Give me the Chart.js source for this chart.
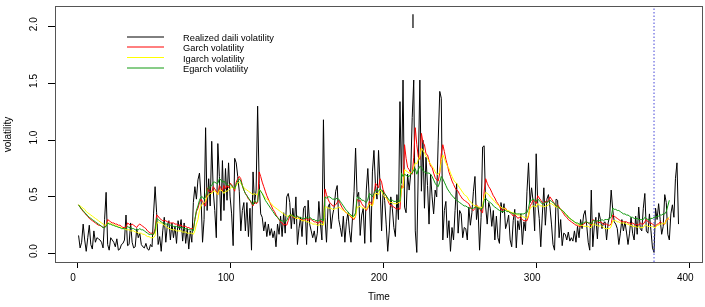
<!DOCTYPE html>
<html>
<head>
<meta charset="utf-8">
<title>Volatility</title>
<script src="https://cdn.jsdelivr.net/npm/chart.js@4.4.1/dist/chart.umd.min.js"></script>
<style>
  html, body { margin: 0; padding: 0; background: #fff; }
  #wrap { width: 705px; height: 307px; }
</style>
</head>
<body>
<div id="wrap"><canvas id="volChart" width="705" height="307"></canvas></div>
<script>
// realized daily volatility, t = 1..393
const realized = [
  0.16,0.05,0.10,0.26,0.12,0.02,0.14,0.25,0.08,0.04,
  0.20,0.10,0.14,0.13,0.12,0.10,0.05,0.30,0.54,0.08,
  0.03,0.14,0.12,0.10,0.06,0.13,0.03,0.04,0.08,0.09,
  0.12,0.34,0.07,0.08,0.27,0.10,0.05,0.06,0.22,0.14,
  0.18,0.08,0.06,0.05,0.09,0.04,0.03,0.08,0.06,0.35,
  0.59,0.36,0.08,0.15,0.02,0.20,0.32,0.10,0.25,0.29,
  0.12,0.27,0.14,0.24,0.09,0.29,0.21,0.30,0.11,0.27,
  0.09,0.22,0.04,0.20,0.10,0.45,0.59,0.48,0.65,0.71,
  0.50,0.10,0.30,1.11,0.38,0.66,0.42,0.99,0.55,0.38,
  0.14,0.97,0.68,0.29,0.82,0.38,0.75,0.47,0.80,0.50,
  0.35,0.07,0.84,0.80,0.68,0.55,0.20,0.38,0.45,0.20,
  0.45,0.15,0.40,0.03,0.72,0.44,0.56,1.30,0.62,0.35,
  0.32,0.20,0.28,0.15,0.26,0.16,0.22,0.14,0.20,0.06,
  0.26,0.17,0.33,0.15,0.36,0.18,0.50,0.53,0.45,0.22,
  0.40,0.26,0.50,0.08,0.22,0.32,0.15,0.40,0.42,0.08,
  0.47,0.26,0.20,0.14,0.20,0.10,0.18,0.46,0.27,0.12,
  1.18,0.32,0.10,0.41,0.44,0.22,0.34,0.41,0.55,0.60,
  0.30,0.23,0.15,0.33,0.10,0.28,0.36,0.20,0.10,0.32,
  0.55,0.93,0.50,0.54,0.16,0.34,0.40,0.09,0.56,0.75,
  0.47,0.10,0.72,0.91,0.60,0.48,0.91,0.60,0.20,0.56,
  0.47,0.26,0.02,0.20,0.50,0.40,0.23,0.15,0.52,0.30,
  1.34,0.62,1.53,0.41,0.36,0.70,0.56,0.70,1.20,1.53,
  0.20,0.01,0.76,1.53,0.55,1.00,0.40,0.85,0.60,0.26,
  0.70,0.50,0.35,0.56,0.50,1.00,1.43,1.37,0.12,0.38,
  0.46,0.14,0.29,0.02,0.23,0.12,0.38,0.62,0.18,0.38,
  0.35,0.14,0.23,0.22,0.12,0.41,0.25,0.36,0.55,0.68,
  0.30,0.41,0.03,0.32,0.94,0.95,0.41,0.26,0.45,0.40,
  0.24,0.38,0.12,0.33,0.14,0.09,0.45,0.36,0.44,0.22,
  0.27,0.34,0.12,0.06,0.29,0.39,0.05,0.29,0.21,0.35,
  0.08,0.28,0.20,0.55,0.80,0.45,0.58,0.46,0.20,0.88,
  0.44,0.31,0.06,0.34,0.58,0.25,0.48,0.52,0.41,0.26,
  0.08,0.03,0.48,0.47,0.14,0.30,0.07,0.18,0.17,0.12,
  0.19,0.11,0.14,0.11,0.20,0.10,0.24,0.14,0.30,0.22,
  0.34,0.38,0.25,0.10,0.03,0.56,0.06,0.25,0.32,0.13,
  0.36,0.30,0.22,0.27,0.28,0.12,0.27,0.33,0.56,0.39,
  0.28,0.26,0.22,0.08,0.18,0.30,0.20,0.28,0.19,0.08,
  0.18,0.32,0.18,0.12,0.33,0.17,0.41,0.22,0.20,0.40,
  0.53,0.20,0.18,0.35,0.20,0.05,0.01,0.40,0.30,0.44,
  0.30,0.17,0.24,0.52,0.45,0.17,0.12,0.35,0.43,0.32,
  0.66,0.80,0.26
];

// fitted volatilities, t = 1..387
const garch = [
  0.43,0.41,0.39,0.37,0.36,0.34,0.33,0.31,0.30,0.29,
  0.28,0.27,0.26,0.25,0.25,0.24,0.23,0.23,0.25,0.30,
  0.29,0.28,0.27,0.27,0.26,0.26,0.25,0.25,0.24,0.23,
  0.23,0.23,0.27,0.26,0.25,0.26,0.25,0.24,0.23,0.25,
  0.26,0.25,0.24,0.23,0.22,0.20,0.19,0.18,0.18,0.17,
  0.22,0.34,0.33,0.31,0.30,0.29,0.29,0.29,0.28,0.28,
  0.27,0.27,0.27,0.26,0.26,0.25,0.25,0.25,0.24,0.24,
  0.24,0.23,0.23,0.22,0.22,0.22,0.30,0.37,0.40,0.45,
  0.48,0.46,0.43,0.42,0.58,0.55,0.55,0.54,0.59,0.57,
  0.55,0.52,0.60,0.58,0.55,0.60,0.57,0.60,0.58,0.62,
  0.61,0.58,0.55,0.63,0.66,0.68,0.66,0.60,0.56,0.53,
  0.51,0.48,0.47,0.44,0.42,0.46,0.44,0.45,0.72,0.68,
  0.63,0.59,0.55,0.51,0.48,0.45,0.42,0.39,0.37,0.34,
  0.32,0.30,0.28,0.27,0.25,0.26,0.25,0.29,0.33,0.34,
  0.32,0.32,0.31,0.33,0.31,0.30,0.30,0.29,0.30,0.31,
  0.29,0.31,0.30,0.29,0.28,0.28,0.27,0.27,0.29,0.28,
  0.27,0.57,0.52,0.48,0.45,0.44,0.42,0.42,0.43,0.45,
  0.47,0.44,0.41,0.39,0.37,0.36,0.35,0.34,0.32,0.31,
  0.30,0.33,0.48,0.46,0.47,0.44,0.42,0.41,0.38,0.40,
  0.46,0.45,0.42,0.52,0.62,0.60,0.58,0.66,0.63,0.56,
  0.53,0.51,0.47,0.44,0.42,0.42,0.41,0.40,0.39,0.40,
  0.39,0.60,0.58,0.96,0.84,0.76,0.74,0.71,0.70,0.85,
  1.11,0.96,0.85,0.83,1.06,0.98,0.96,0.88,0.87,0.82,
  0.77,0.76,0.71,0.67,0.65,0.64,0.71,0.88,0.96,0.90,
  0.83,0.78,0.72,0.68,0.64,0.61,0.58,0.56,0.55,0.52,
  0.50,0.48,0.47,0.46,0.45,0.44,0.41,0.39,0.38,0.40,
  0.43,0.41,0.40,0.37,0.36,0.55,0.66,0.62,0.59,0.57,
  0.54,0.51,0.49,0.46,0.44,0.42,0.39,0.38,0.39,0.40,
  0.38,0.37,0.36,0.35,0.33,0.34,0.33,0.31,0.32,0.31,
  0.30,0.29,0.29,0.29,0.33,0.42,0.44,0.47,0.46,0.44,
  0.51,0.49,0.47,0.45,0.44,0.46,0.45,0.47,0.50,0.48,
  0.46,0.44,0.41,0.43,0.41,0.39,0.37,0.35,0.33,0.32,
  0.30,0.29,0.28,0.27,0.26,0.25,0.25,0.24,0.24,0.25,
  0.26,0.27,0.28,0.27,0.26,0.25,0.30,0.29,0.28,0.28,
  0.27,0.28,0.27,0.26,0.26,0.26,0.25,0.25,0.26,0.34,
  0.33,0.32,0.31,0.30,0.29,0.28,0.28,0.28,0.28,0.27,
  0.27,0.26,0.27,0.26,0.25,0.26,0.25,0.27,0.26,0.26,
  0.28,0.30,0.28,0.27,0.27,0.26,0.25,0.24,0.26,0.26,
  0.28,0.27,0.26,0.26,0.30,0.31,0.30
];

const igarch = [
  0.43,0.42,0.41,0.40,0.39,0.37,0.36,0.35,0.34,0.33,
  0.32,0.31,0.30,0.29,0.28,0.27,0.26,0.25,0.25,0.27,
  0.27,0.26,0.26,0.25,0.25,0.24,0.24,0.23,0.23,0.22,
  0.22,0.21,0.21,0.21,0.20,0.20,0.20,0.19,0.19,0.18,
  0.18,0.18,0.17,0.17,0.16,0.15,0.15,0.14,0.14,0.14,
  0.16,0.26,0.28,0.27,0.27,0.26,0.25,0.24,0.23,0.22,
  0.22,0.21,0.21,0.21,0.20,0.20,0.20,0.20,0.19,0.19,
  0.19,0.18,0.18,0.18,0.18,0.17,0.20,0.26,0.30,0.38,
  0.42,0.44,0.45,0.46,0.50,0.52,0.53,0.53,0.55,0.55,
  0.54,0.52,0.56,0.56,0.55,0.53,0.55,0.55,0.56,0.57,
  0.59,0.58,0.57,0.60,0.62,0.63,0.62,0.60,0.58,0.57,
  0.56,0.55,0.54,0.53,0.52,0.53,0.52,0.52,0.56,0.55,
  0.53,0.51,0.49,0.48,0.47,0.45,0.44,0.42,0.41,0.40,
  0.39,0.38,0.37,0.36,0.35,0.34,0.33,0.33,0.34,0.34,
  0.33,0.32,0.31,0.31,0.31,0.30,0.29,0.29,0.29,0.28,
  0.28,0.27,0.27,0.26,0.26,0.26,0.25,0.25,0.26,0.26,
  0.25,0.41,0.41,0.40,0.40,0.40,0.39,0.39,0.40,0.40,
  0.41,0.40,0.39,0.38,0.37,0.36,0.35,0.34,0.33,0.32,
  0.31,0.33,0.41,0.41,0.42,0.41,0.40,0.40,0.39,0.41,
  0.44,0.43,0.42,0.48,0.53,0.53,0.52,0.56,0.55,0.52,
  0.50,0.49,0.47,0.46,0.45,0.45,0.44,0.44,0.44,0.45,
  0.45,0.57,0.58,0.74,0.73,0.72,0.71,0.71,0.71,0.76,
  0.80,0.79,0.83,0.86,0.93,0.91,0.89,0.86,0.84,0.81,
  0.79,0.77,0.75,0.72,0.70,0.70,0.72,0.82,0.87,0.84,
  0.80,0.77,0.75,0.71,0.68,0.65,0.63,0.62,0.60,0.58,
  0.56,0.54,0.52,0.51,0.50,0.47,0.46,0.44,0.43,0.42,
  0.42,0.41,0.41,0.40,0.42,0.50,0.54,0.53,0.52,0.50,
  0.49,0.47,0.46,0.44,0.43,0.42,0.41,0.40,0.40,0.39,
  0.38,0.38,0.37,0.36,0.36,0.35,0.35,0.34,0.34,0.33,
  0.33,0.32,0.32,0.31,0.34,0.40,0.41,0.42,0.42,0.41,
  0.44,0.43,0.42,0.42,0.41,0.42,0.42,0.43,0.44,0.44,
  0.43,0.42,0.41,0.41,0.40,0.39,0.38,0.37,0.35,0.34,
  0.33,0.31,0.30,0.29,0.28,0.27,0.26,0.25,0.25,0.25,
  0.24,0.24,0.24,0.24,0.23,0.23,0.26,0.26,0.25,0.25,
  0.24,0.25,0.24,0.23,0.22,0.22,0.22,0.22,0.24,0.29,
  0.29,0.29,0.28,0.28,0.27,0.27,0.27,0.27,0.26,0.26,
  0.25,0.25,0.24,0.24,0.24,0.23,0.24,0.23,0.23,0.23,
  0.25,0.25,0.24,0.24,0.24,0.24,0.23,0.23,0.25,0.25,
  0.26,0.26,0.27,0.26,0.29,0.31,0.32
];

const egarch = [
  0.43,0.41,0.39,0.38,0.36,0.35,0.33,0.32,0.31,0.30,
  0.29,0.28,0.27,0.26,0.25,0.24,0.23,0.23,0.24,0.27,
  0.26,0.26,0.25,0.25,0.24,0.24,0.23,0.23,0.22,0.22,
  0.22,0.22,0.24,0.23,0.23,0.22,0.22,0.21,0.21,0.21,
  0.22,0.21,0.21,0.20,0.19,0.18,0.17,0.17,0.17,0.17,
  0.20,0.31,0.30,0.29,0.28,0.27,0.27,0.26,0.26,0.25,
  0.25,0.25,0.24,0.24,0.24,0.23,0.23,0.23,0.23,0.22,
  0.22,0.22,0.21,0.21,0.21,0.20,0.30,0.38,0.42,0.47,
  0.50,0.50,0.48,0.50,0.57,0.58,0.59,0.60,0.63,0.63,
  0.62,0.62,0.66,0.65,0.63,0.64,0.62,0.61,0.60,0.61,
  0.60,0.58,0.57,0.61,0.64,0.66,0.64,0.60,0.56,0.53,
  0.51,0.49,0.47,0.45,0.43,0.47,0.45,0.46,0.57,0.55,
  0.53,0.50,0.47,0.45,0.43,0.41,0.39,0.37,0.35,0.33,
  0.32,0.30,0.29,0.29,0.28,0.29,0.29,0.32,0.34,0.34,
  0.33,0.33,0.32,0.33,0.32,0.32,0.31,0.31,0.31,0.32,
  0.31,0.32,0.31,0.30,0.30,0.29,0.29,0.29,0.30,0.30,
  0.29,0.50,0.49,0.50,0.50,0.49,0.48,0.48,0.48,0.49,
  0.48,0.46,0.44,0.42,0.40,0.38,0.37,0.35,0.34,0.33,
  0.33,0.36,0.50,0.49,0.49,0.47,0.47,0.46,0.45,0.48,
  0.53,0.52,0.50,0.53,0.56,0.56,0.55,0.57,0.56,0.54,
  0.53,0.51,0.49,0.47,0.47,0.47,0.46,0.46,0.46,0.47,
  0.46,0.71,0.68,0.70,0.69,0.68,0.68,0.70,0.71,0.74,
  0.75,0.70,0.74,0.77,0.76,0.73,0.72,0.71,0.71,0.71,
  0.70,0.68,0.65,0.62,0.60,0.59,0.63,0.68,0.66,0.63,
  0.60,0.57,0.55,0.53,0.51,0.50,0.48,0.47,0.46,0.45,
  0.44,0.43,0.42,0.42,0.41,0.40,0.40,0.40,0.40,0.41,
  0.41,0.40,0.40,0.39,0.40,0.47,0.49,0.47,0.46,0.45,
  0.44,0.42,0.41,0.40,0.39,0.38,0.37,0.37,0.37,0.38,
  0.37,0.37,0.36,0.36,0.35,0.36,0.35,0.35,0.35,0.35,
  0.35,0.35,0.36,0.36,0.40,0.47,0.47,0.48,0.47,0.46,
  0.48,0.47,0.45,0.44,0.44,0.45,0.45,0.46,0.47,0.46,
  0.45,0.44,0.42,0.42,0.40,0.39,0.38,0.37,0.35,0.34,
  0.32,0.31,0.30,0.29,0.28,0.27,0.27,0.26,0.26,0.27,
  0.27,0.28,0.28,0.27,0.27,0.26,0.29,0.29,0.28,0.29,
  0.29,0.29,0.30,0.29,0.30,0.30,0.30,0.31,0.32,0.40,
  0.39,0.39,0.38,0.38,0.37,0.36,0.35,0.35,0.34,0.34,
  0.33,0.32,0.32,0.31,0.31,0.31,0.30,0.30,0.30,0.30,
  0.32,0.31,0.30,0.30,0.31,0.31,0.32,0.32,0.33,0.33,
  0.34,0.34,0.35,0.35,0.37,0.42,0.47
];

const seriesNames = ['Realized daili volatility', 'Garch volatility', 'Igarch volatility', 'Egarch volatility'];
const seriesColors = ['#000000', '#ff0000', '#ffff00', '#109a10'];
const xTicks = [0, 100, 200, 300, 400];
const yTicks = [0, 0.5, 1, 1.5, 2];
const yTickLabels = ['0.0', '0.5', '1.0', '1.5', '2.0'];
const cutoffTime = 377;           // dotted blue line
const topMarkTime = 219.5;        // short stroke near the top
const topMark = [1.99, 2.11];

const FONT = '"Liberation Sans", Arial, Helvetica, sans-serif';

function toPoints(arr) {
  return arr.map((v, i) => ({ x: i + 1, y: v }));
}

function lineSet(label, data, color, width, order) {
  return {
    label: label,
    data: data,
    borderColor: color,
    borderWidth: width,
    pointRadius: 0,
    tension: 0,
    fill: false,
    order: order
  };
}

// R-style frame, rotated y labels and the legend
const rDecor = {
  id: 'rDecor',
  afterDraw(chart) {
    const ctx = chart.ctx;
    const a = chart.chartArea;
    const yScale = chart.scales.y;
    ctx.save();
    ctx.strokeStyle = '#555';
    ctx.lineWidth = 1;
    ctx.strokeRect(a.left + 0.5, a.top + 0.5, a.right - a.left - 1, a.bottom - a.top - 1);

    ctx.fillStyle = '#000';
    ctx.font = '10px ' + FONT;
    ctx.textAlign = 'center';
    ctx.textBaseline = 'middle';
    yTicks.forEach((v, i) => {
      ctx.save();
      ctx.translate(34, yScale.getPixelForValue(v) - 2.5);
      ctx.rotate(-Math.PI / 2);
      ctx.fillText(yTickLabels[i], 0, 0);
      ctx.restore();
    });

    // legend
    ctx.font = '9.3px ' + FONT;
    ctx.textAlign = 'left';
    const rows = [37, 47, 57.5, 68];
    seriesNames.forEach((name, i) => {
      ctx.beginPath();
      ctx.strokeStyle = seriesColors[i];
      ctx.lineWidth = 1;
      ctx.moveTo(127, rows[i]);
      ctx.lineTo(164, rows[i]);
      ctx.stroke();
      ctx.fillStyle = '#000';
      ctx.fillText(name, 183, rows[i] + 1.5);
    });
    ctx.restore();
  }
};

const ctx = document.getElementById('volChart').getContext('2d');
new Chart(ctx, {
  type: 'line',
  data: {
    datasets: [
      lineSet(seriesNames[0], toPoints(realized), seriesColors[0], 1, 5),
      lineSet(seriesNames[1], toPoints(garch), seriesColors[1], 1, 4),
      lineSet(seriesNames[2], toPoints(igarch), seriesColors[2], 1, 3),
      lineSet(seriesNames[3], toPoints(egarch), seriesColors[3], 1, 2),
      Object.assign(lineSet('cutoff', [{ x: cutoffTime, y: -1 }, { x: cutoffTime, y: 3 }], '#4646d8', 1, 1), { borderDash: [1.5, 2] }),
      lineSet('mark', topMark.map(v => ({ x: topMarkTime, y: v })), '#000000', 1.2, 6)
    ]
  },
  options: {
    responsive: false,
    animation: false,
    devicePixelRatio: 1,
    layout: { padding: { left: 0, top: 6, right: 2, bottom: 0 } },
    plugins: {
      legend: { display: false },
      tooltip: { enabled: false }
    },
    scales: {
      x: {
        type: 'linear',
        position: 'bottom',
        min: -14.4,
        max: 409,
        afterBuildTicks: s => { s.ticks = xTicks.map(v => ({ value: v })); },
        afterFit: s => { s.height = 44; },
        grid: { drawOnChartArea: false, drawTicks: true, tickLength: 5, color: '#000' },
        border: { display: false },
        ticks: {
          color: '#000',
          font: { family: FONT, size: 10 },
          maxRotation: 0,
          autoSkip: false,
          padding: 4,
          labelOffset: -4
        },
        title: {
          display: true,
          text: 'Time',
          color: '#000',
          font: { family: FONT, size: 10 },
          padding: { top: 2, bottom: 4 }
        }
      },
      y: {
        type: 'linear',
        position: 'left',
        min: -0.083,
        max: 2.183,
        afterBuildTicks: s => { s.ticks = yTicks.map(v => ({ value: v })); },
        afterFit: s => { s.width = 55; },
        grid: { drawOnChartArea: false, drawTicks: true, tickLength: 7, color: '#000' },
        border: { display: false },
        ticks: { display: false },
        title: {
          display: true,
          text: 'volatility',
          color: '#000',
          font: { family: FONT, size: 10 },
          padding: { top: 2, bottom: 0 }
        }
      }
    }
  },
  plugins: [rDecor]
});
</script>
</body>
</html>
